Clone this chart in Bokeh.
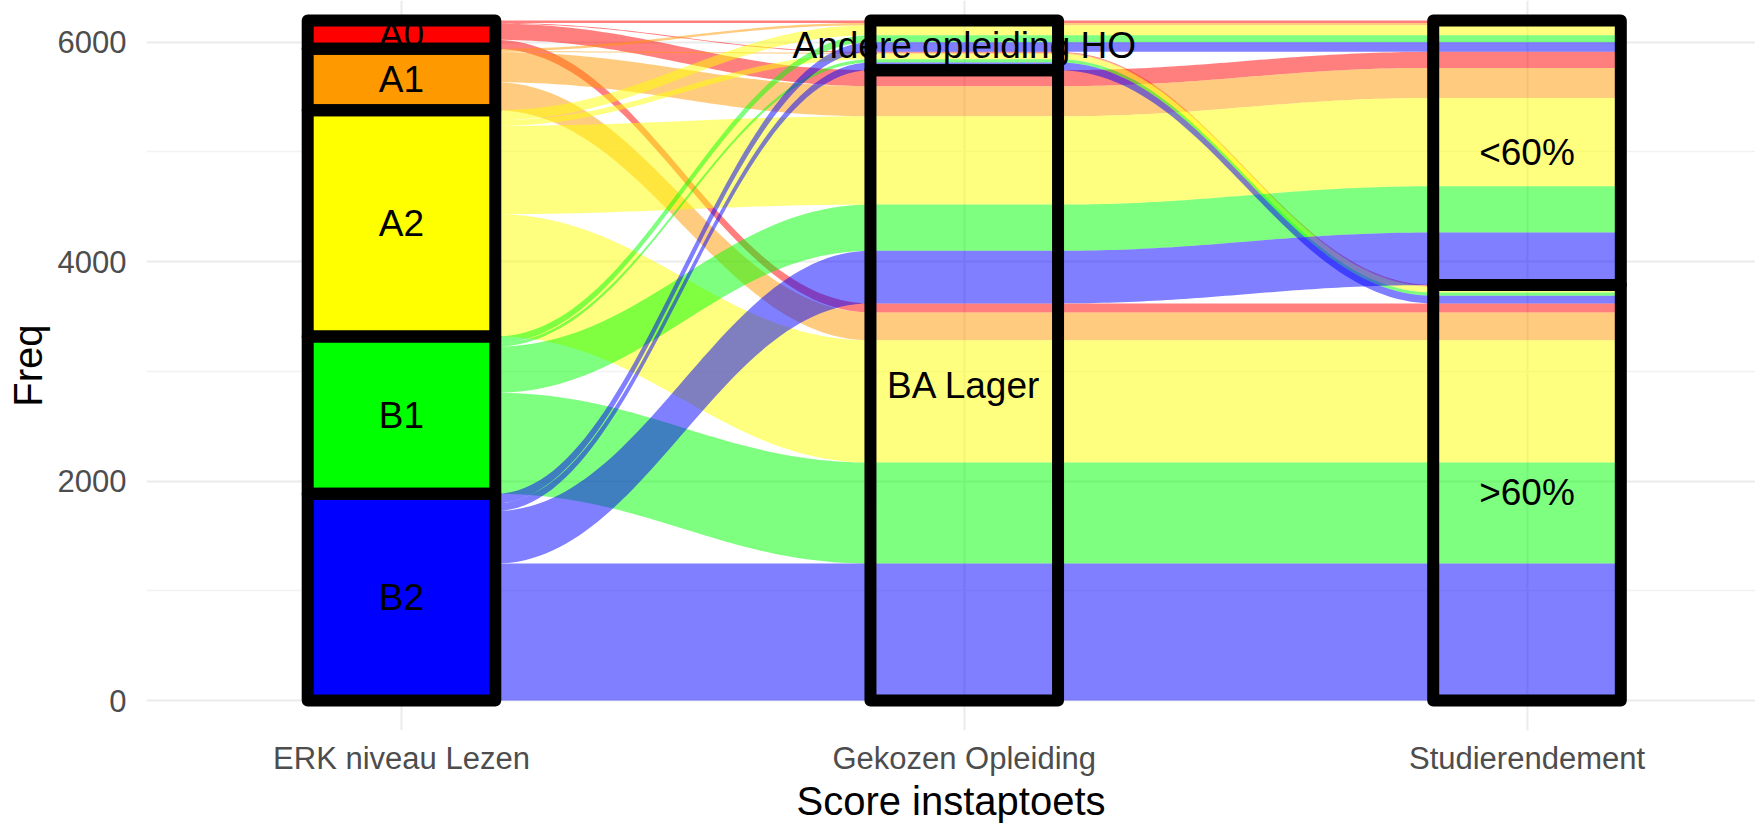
import numpy as np
from bokeh.plotting import figure
from bokeh.models import Range1d, FixedTicker
from bokeh.embed import file_html
from bokeh.resources import INLINE
from bokeh.core.properties import value

# ---------------- data ----------------
erk_levels = ["A0", "A1", "A2", "B1", "B2"]            # top -> bottom
erk_colors = ["#FF0000", "#FF9900", "#FFFF00", "#00FF00", "#0000FF"]
opl_levels = ["Andere opleiding HO", "BA Lager"]       # top -> bottom
stud_levels = ["<60%", ">60%"]                         # top -> bottom
axis_labels = ["ERK niveau Lezen", "Gekozen Opleiding", "Studierendement"]

# frequencies per ERK level (A0, A1, A2, B1, B2)
freq_ba_hi = [82, 255, 1114, 920, 1248]    # BA Lager, >60%
freq_ba_lo = [146, 274, 805, 421, 479]     # BA Lager, <60%
freq_and_hi = [8, 9, 51, 29, 70]           # Andere opleiding HO, >60%
freq_and_lo = [22, 22, 91, 64, 87]         # Andere opleiding HO, <60%

y_ticks = [0, 2000, 4000, 6000]
y_minor = [1000, 3000, 5000]

FONT = "Liberation Sans"

# ---------------- build alluvia ----------------
rows = []  # (erk_idx, opl_idx, stud_idx, freq)
table = {(1, 1): freq_ba_hi, (1, 0): freq_ba_lo, (0, 1): freq_and_hi, (0, 0): freq_and_lo}
for e in range(len(erk_levels)):
    for (o, s), arr in table.items():
        rows.append((e, o, s, arr[e]))

ne, no, ns = len(erk_levels), len(opl_levels), len(stud_levels)
def er(r): return ne - 1 - r[0]   # bottom rank
def orr(r): return no - 1 - r[1]
def sr(r): return ns - 1 - r[2]

keys = [
    lambda r: (er(r), orr(r), sr(r)),
    lambda r: (orr(r), sr(r), er(r)),
    lambda r: (sr(r), orr(r), er(r)),
]
bounds = [dict() for _ in range(3)]
for a in range(3):
    cum = 0.0
    for i in sorted(range(len(rows)), key=lambda i: keys[a](rows[i])):
        f = rows[i][3]
        bounds[a][i] = (cum, cum + f)
        cum += f

w = 1.0 / 3.0
k = 0.4
tt = np.linspace(0, 1, 60)

def bez(x0, y0, x1, y1):
    dx = x1 - x0
    p0, p1, p2, p3 = (x0, y0), (x0 + k * dx, y0), (x1 - k * dx, y1), (x1, y1)
    b0 = (1 - tt) ** 3; b1 = 3 * (1 - tt) ** 2 * tt; b2 = 3 * (1 - tt) * tt ** 2; b3 = tt ** 3
    xs = b0 * p0[0] + b1 * p1[0] + b2 * p2[0] + b3 * p3[0]
    ys = b0 * p0[1] + b1 * p1[1] + b2 * p2[1] + b3 * p3[1]
    return list(xs), list(ys)

def edge(vals):
    xs, ys = [1 - w / 2], [vals[0]]
    for a in range(2):
        xa = a + 1
        bx, by = bez(xa + w / 2, vals[a], xa + 1 - w / 2, vals[a + 1])
        xs += bx; ys += by
    xs.append(3 + w / 2); ys.append(vals[2])
    return xs, ys

flow_xs, flow_ys, flow_col = [], [], []
for i, r in enumerate(rows):
    if r[3] <= 0:
        continue
    tx, ty = edge([bounds[a][i][1] for a in range(3)])
    bx, by = edge([bounds[a][i][0] for a in range(3)])
    flow_xs.append(tx + bx[::-1])
    flow_ys.append(ty + by[::-1])
    flow_col.append(erk_colors[r[0]])

# strata
def strata(levels, col):
    tot = {}
    for r in rows:
        tot[r[col]] = tot.get(r[col], 0) + r[3]
    out = []
    cum = 0.0
    for lvl in reversed(range(len(levels))):
        out.append((lvl, cum, cum + tot[lvl]))
        cum += tot[lvl]
    return out

st1 = strata(erk_levels, 0)
st2 = strata(opl_levels, 1)
st3 = strata(stud_levels, 2)

# ---------------- figure ----------------
p = figure(width=1755, height=826,
           x_range=Range1d(0.5469, 3.406), y_range=Range1d(-273, 6379),
           output_backend="svg", toolbar_location=None,
           min_border_left=146, min_border_right=0, min_border_top=0, min_border_bottom=96)
p.outline_line_color = None
p.background_fill_color = "white"
p.border_fill_color = "white"

p.patches(flow_xs, flow_ys, fill_color=flow_col, fill_alpha=0.5, line_color=None)

# left strata fills
p.quad(left=[1 - w / 2] * len(st1), right=[1 + w / 2] * len(st1),
       bottom=[s[1] for s in st1], top=[s[2] for s in st1],
       fill_color=[erk_colors[s[0]] for s in st1], line_color=None)

# labels
lx, ly, lt = [], [], []
for ax, st, levels in [(1, st1, erk_levels), (2, st2, opl_levels), (3, st3, stud_levels)]:
    for lvl, b, t in st:
        lx.append(ax); ly.append((b + t) / 2); lt.append(levels[lvl])
p.text(x=lx, y=ly, text=lt, text_font=value(FONT), text_font_size="37px",
       text_align="center", text_baseline="middle", text_color="black")

# strata borders
bl, br, bb, bt = [], [], [], []
for ax, st in [(1, st1), (2, st2), (3, st3)]:
    for lvl, b, t in st:
        bl.append(ax - w / 2); br.append(ax + w / 2); bb.append(b); bt.append(t)
p.quad(left=bl, right=br, bottom=bb, top=bt, fill_color=None,
       line_color="black", line_width=12, line_join="round")

# axes
p.xaxis.ticker = FixedTicker(ticks=[1, 2, 3])
p.xaxis.major_label_overrides = {1: axis_labels[0], 2: axis_labels[1], 3: axis_labels[2]}
p.yaxis.ticker = FixedTicker(ticks=y_ticks, minor_ticks=y_minor)
p.xgrid.ticker = FixedTicker(ticks=[1, 2, 3])
p.ygrid.ticker = FixedTicker(ticks=y_ticks, minor_ticks=y_minor)

for ax in (p.xaxis[0], p.yaxis[0]):
    ax.axis_line_color = None
    ax.major_tick_line_color = None
    ax.minor_tick_line_color = None
    ax.major_tick_out = 0
    ax.major_tick_in = 0
    ax.minor_tick_out = 0
    ax.minor_tick_in = 0
    ax.major_label_text_font = FONT
    ax.major_label_text_font_size = "31px"
    ax.major_label_text_color = "#4D4D4D"
    ax.axis_label_text_font = FONT
    ax.axis_label_text_font_size = "40px"
    ax.axis_label_text_font_style = "normal"
    ax.axis_label_text_color = "black"

p.xaxis.axis_label = "Score instaptoets"
p.yaxis.axis_label = "Freq"
p.xaxis.major_label_standoff = 10
p.xaxis.axis_label_standoff = 0
p.yaxis.major_label_standoff = 20
p.yaxis.axis_label_standoff = 5

p.xgrid.grid_line_color = "#EBEBEB"
p.xgrid.grid_line_width = 2
p.ygrid.grid_line_color = "#EBEBEB"
p.ygrid.grid_line_width = 2
p.ygrid.minor_grid_line_color = "#F2F2F2"
p.ygrid.minor_grid_line_width = 1.5

open("out.html", "w").write(file_html(p, INLINE))
